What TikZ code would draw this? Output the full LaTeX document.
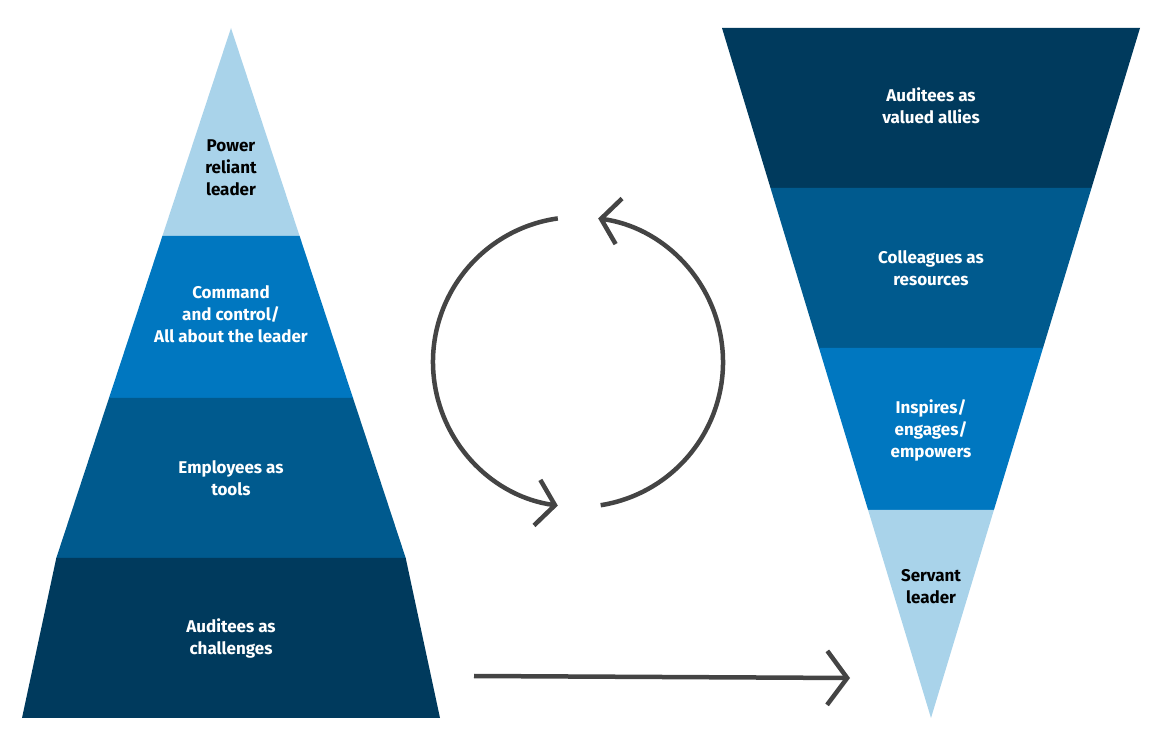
\documentclass[tikz,border=0pt]{standalone}
\usepackage{fontspec}
\setmainfont{Fira Sans}
\usetikzlibrary{arrows.meta,calc}
\definecolor{c1}{HTML}{A9D3EA}
\definecolor{c2}{HTML}{0077C0}
\definecolor{c3}{HTML}{005A8E}
\definecolor{c4}{HTML}{003A5D}
\definecolor{ar}{HTML}{444444}
\begin{document}
\begin{tikzpicture}[x=1pt,y=1pt,
 lbl/.style={align=center,font=\fontsize{17}{22}\selectfont\bfseries,text=white},
 dlbl/.style={lbl,text=black},
 arw/.style={draw=ar,line width=4.5pt,-{Straight Barb[length=18pt,width=46pt]}}]
\useasboundingbox (0,0) rectangle (1160,750);
% left pyramid (y' = 750 - y)
\fill[c1] (231,722) -- (299.6,514) -- (162.4,514) -- cycle;
\fill[c2] (299.6,514) -- (353.0,352) -- (109.0,352) -- (162.4,514) -- cycle;
\fill[c3] (353.0,352) -- (405.7,192) -- (56.3,192) -- (109.0,352) -- cycle;
\fill[c4] (405.7,192) -- (440,32) -- (22,32) -- (56.3,192) -- cycle;
\node[dlbl] (l1) at (231,582) {Power\\reliant\\leader};
\node[lbl] (l2) at (231,436) {Command\\and control/\\All about the leader};
\node[lbl] (l3) at (231,272) {Employees as\\tools};
\node[lbl] (l4) at (231,112) {Auditees as\\challenges};
% right inverted pyramid
\fill[c4] (722,722) -- (1140,722) -- (1091.5,562) -- (770.5,562) -- cycle;
\fill[c3] (770.5,562) -- (1091.5,562) -- (1043.0,402) -- (819.0,402) -- cycle;
\fill[c2] (819.0,402) -- (1043.0,402) -- (993.9,240) -- (868.1,240) -- cycle;
\fill[c1] (868.1,240) -- (993.9,240) -- (931,32) -- cycle;
\node[lbl] (r1) at (931,644) {Auditees as\\valued allies};
\node[lbl] (r2) at (931,482) {Colleagues as\\resources};
\node[lbl] (r3) at (931,320) {Inspires/\\engages/\\empowers};
\node[dlbl] (r4) at (931,163) {Servant\\leader};
% cycle arrows
\coordinate (c) at (578,388);
\draw[arw] ($(c)+(98:145)$) arc[start angle=98,end angle=262,radius=145];
\draw[arw] ($(c)+(-81:145)$) arc[start angle=-81,end angle=82,radius=145];
% bottom arrow
\coordinate (a1) at (474,74);
\coordinate (a2) at (850,72);
\draw[arw,-{Straight Barb[length=20pt,width=54pt]}] (a1) -- (a2);
\end{tikzpicture}
\end{document}
